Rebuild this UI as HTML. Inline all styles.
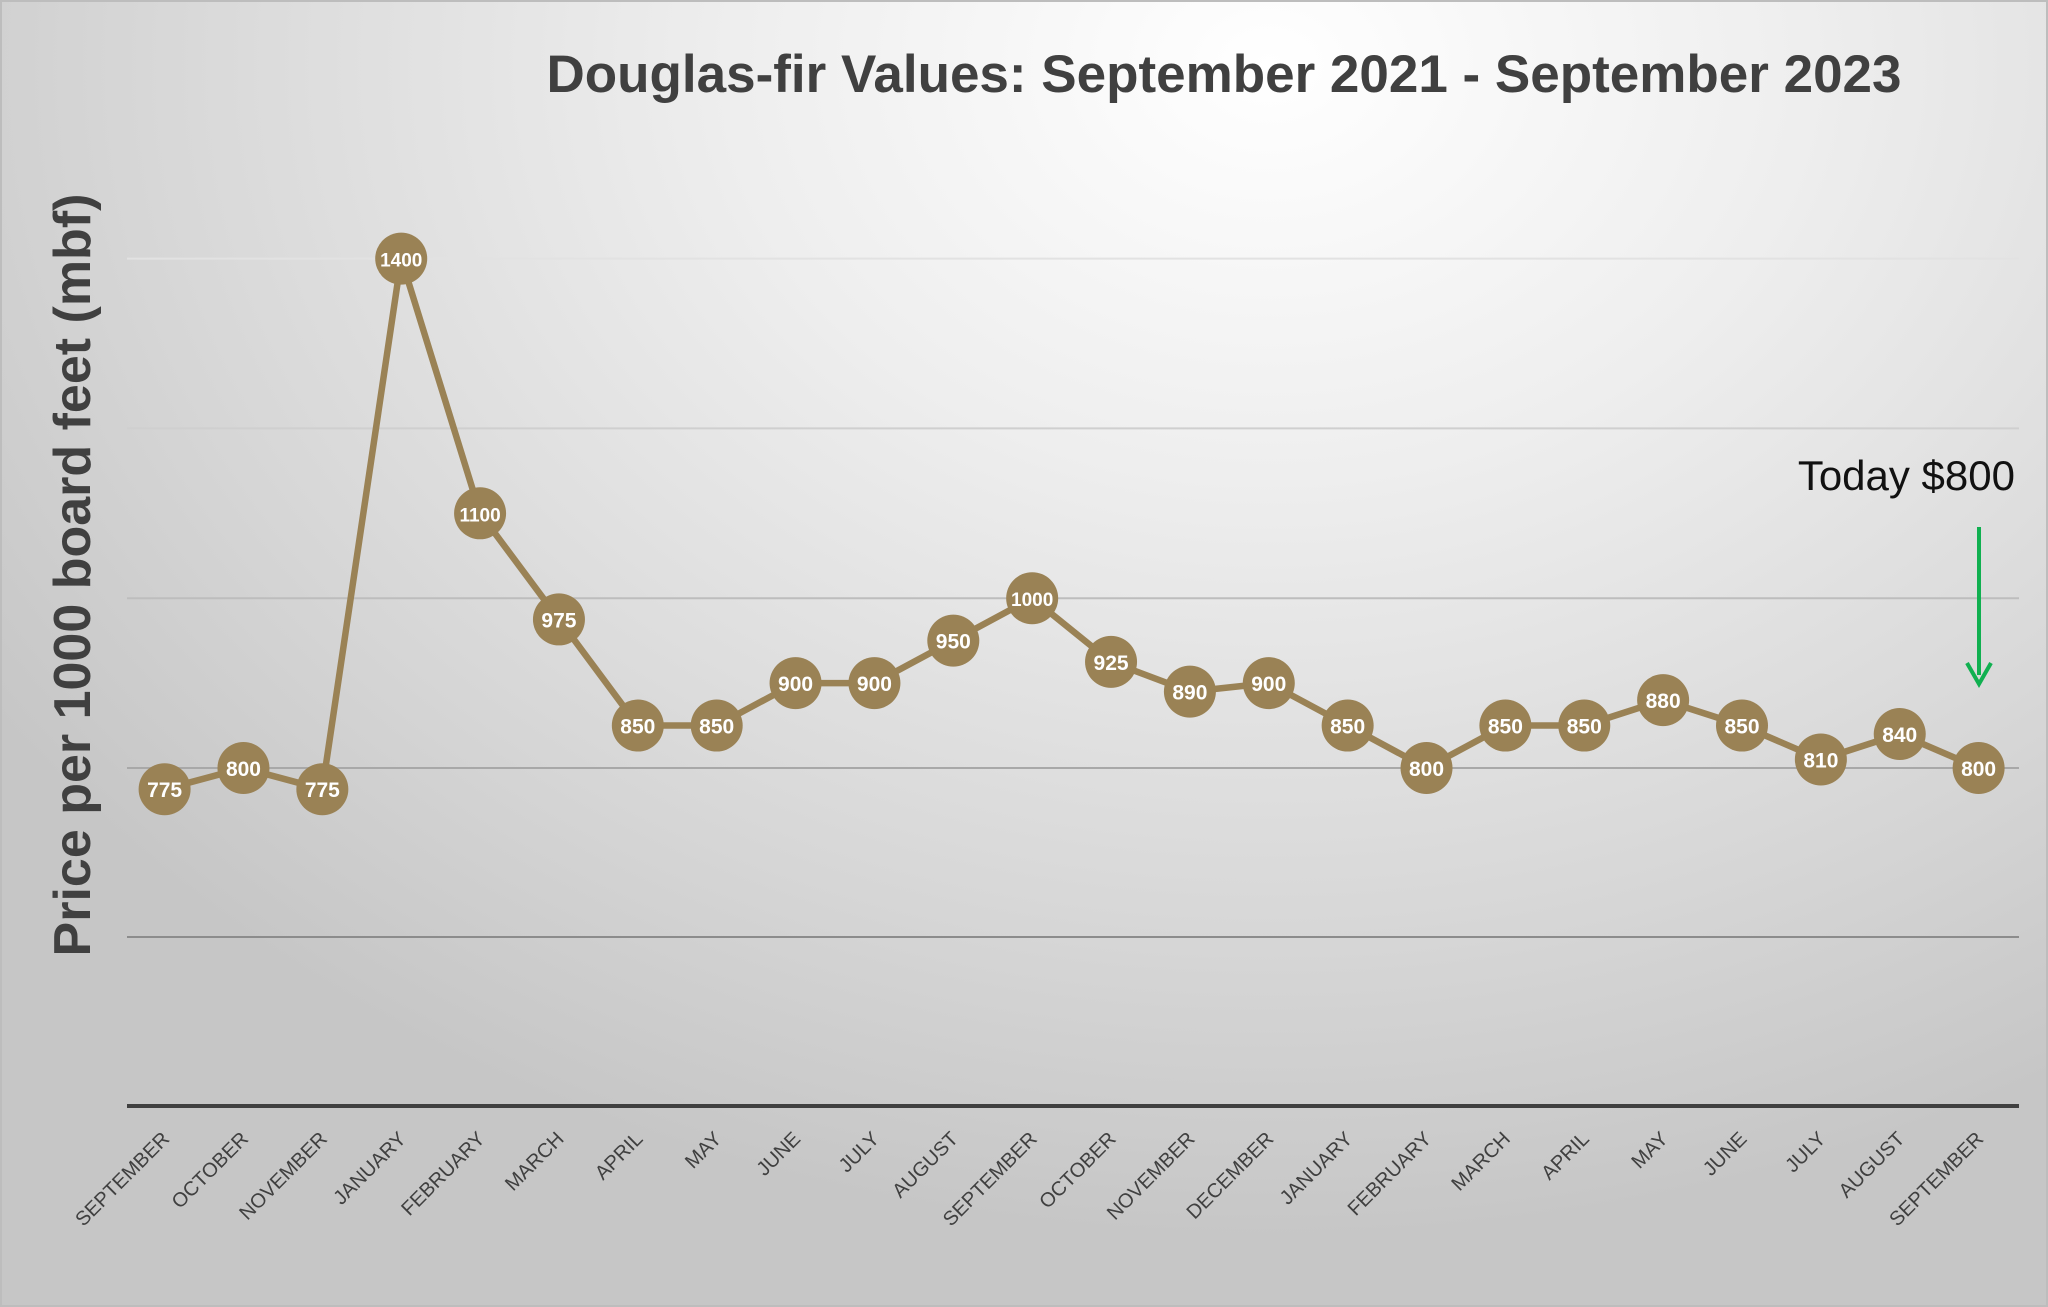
<!DOCTYPE html>
<html><head><meta charset="utf-8"><style>
html,body{margin:0;padding:0;}
body{width:2048px;height:1307px;overflow:hidden;background:radial-gradient(ellipse 75% 90% at 62% 5%,#ffffff 0%,#eeeeee 35%,#d6d6d6 75%,#c6c6c6 100%);font-family:"Liberation Sans",sans-serif;}
svg{position:absolute;left:0;top:0;}
</style></head><body>
<svg id="s" width="2048" height="1307" viewBox="0 0 2048 1307" xmlns="http://www.w3.org/2000/svg">
<rect x="1" y="1" width="2046" height="1305" fill="none" stroke="#bdbdbd" stroke-width="2"/>
<text x="1224" y="92" text-anchor="middle" font-family="Liberation Sans, sans-serif" font-weight="bold" font-size="53" fill="#404040">Douglas-fir Values: September 2021 - September 2023</text>
<text transform="translate(90,575) rotate(-90)" text-anchor="middle" font-family="Liberation Sans, sans-serif" font-weight="bold" font-size="52" fill="#404040">Price per 1000 board feet (mbf)</text>
<g stroke-width="2">
<line x1="127" x2="2019" y1="258.6" y2="258.6" stroke="#e2e2e2"/>
<line x1="127" x2="2019" y1="428.4" y2="428.4" stroke="#cfcfcf"/>
<line x1="127" x2="2019" y1="598.2" y2="598.2" stroke="#bdbdbd"/>
<line x1="127" x2="2019" y1="768" y2="768" stroke="#a8a8a8"/>
<line x1="127" x2="2019" y1="937" y2="937" stroke="#8c8c8c"/>
</g>
<line x1="127" x2="2019" y1="1106" y2="1106" stroke="#404040" stroke-width="4"/>
<text x="2015" y="490" text-anchor="end" font-family="Liberation Sans, sans-serif" font-size="42" fill="#111">Today $800</text>
<line x1="1979" x2="1979" y1="527" y2="675" stroke="#10b050" stroke-width="4"/>
<polyline points="1967,663 1979,684 1991,663" fill="none" stroke="#10b050" stroke-width="4"/>
<g id="g"></g>
</svg>
<script>
var v=[775,800,775,1400,1100,975,850,850,900,900,950,1000,925,890,900,850,800,850,850,880,850,810,840,800];
var m=["SEPTEMBER","OCTOBER","NOVEMBER","JANUARY","FEBRUARY","MARCH","APRIL","MAY","JUNE","JULY","AUGUST","SEPTEMBER","OCTOBER","NOVEMBER","DECEMBER","JANUARY","FEBRUARY","MARCH","APRIL","MAY","JUNE","JULY","AUGUST","SEPTEMBER"];
var h="",pts=[];
for(var i=0;i<24;i++){var x=164.6+i*78.87,y=768-(v[i]-800)*0.849;pts.push(x.toFixed(1)+","+y.toFixed(1));}
h+='<polyline points="'+pts.join(" ")+'" fill="none" stroke="#9a8255" stroke-width="6.5" stroke-linejoin="round"/>';
for(var i=0;i<24;i++){var x=164.6+i*78.87,y=768-(v[i]-800)*0.849;
h+='<circle cx="'+x+'" cy="'+y+'" r="26" fill="#9a8255"/>';
h+='<text x="'+x+'" y="'+(y+8)+'" text-anchor="middle" font-family="Liberation Sans, sans-serif" font-weight="bold" font-size="'+(v[i]>=1000?19:21)+'" fill="#fff">'+v[i]+'</text>';
h+='<text transform="translate('+(x+6)+',1140) rotate(-45)" text-anchor="end" font-family="Liberation Sans, sans-serif" font-size="20" fill="#404040">'+m[i]+'</text>';}
document.getElementById("g").innerHTML=h;
</script>
</body></html>
